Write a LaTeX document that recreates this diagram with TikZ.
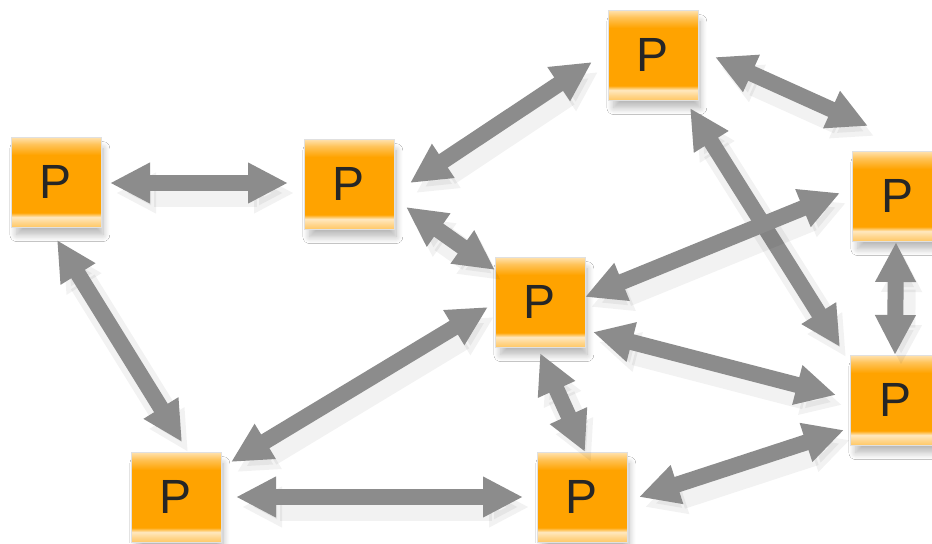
\documentclass[tikz,border=0pt]{standalone}
\usepackage{fontspec}
\setmainfont{Liberation Sans}
\usetikzlibrary{arrows.meta,shadows.blur}
\definecolor{procorange}{RGB}{255,163,0}
\definecolor{linkgray}{RGB}{140,140,140}
\pgfdeclareverticalshading{procshade}{100bp}{color(0bp)=(procorange!60!white); color(25bp)=(procorange!60!white);
  color(27.5bp)=(procorange!45!white); color(30.5bp)=(procorange!25!white); color(33bp)=(procorange);
  color(65bp)=(procorange); color(71bp)=(procorange!65!white); color(75bp)=(procorange!30!white); color(100bp)=(procorange!30!white)}
\begin{document}
\begin{tikzpicture}[x=0.5pt,y=-0.5pt]
        \tikzstyle{proc}=[rectangle,draw=black!12,shading=procshade,minimum size=45pt,inner sep=0pt,
          font=\fontsize{24}{26}\selectfont,text=black!85,
          blur shadow={shadow xshift=2pt,shadow yshift=-5pt,shadow scale=0.96,shadow blur radius=3.5pt,shadow blur steps=10,shadow opacity=28}]
        \tikzstyle{link}=[draw=linkgray,line width=8pt,{Triangle[length=20pt,width=19pt]}-{Triangle[length=20pt,width=19pt]},
          preaction={draw=black,opacity=0.05,line width=14pt,transform canvas={shift={(3pt,-5pt)}}}]
       \path[fill=white,use as bounding box] (0,0) rectangle (932,543);
       \begin{scope}
         \node [proc] (p1) at (56,182) {P};
         \node [proc] (p2) at (349,184) {P};
         \node [proc] (p3) at (653,55) {P};
         \node [proc] (p4) at (897,196) {P};
         \node [proc] (p5) at (540,302) {P};
         \node [proc] (p6) at (895,400) {P};
         \node [proc] (p7) at (176,497) {P};
         \node [proc] (p8) at (582,497) {P};
         \draw[link] ([shift={(54,1)}]p1.center) -- ([shift={(-61,-1)}]p2.center);
         \draw[link] ([shift={(61,-1)}]p2.center) -- ([shift={(-61,7)}]p3.center);
         \draw[link] ([shift={(62,2)}]p3.center) -- ([shift={(-29,-70)}]p4.center);
         \draw[link] ([shift={(37,53)}]p3.center) -- ([shift={(-55,-53)}]p6.center);
         \draw[link] ([shift={(57,23)}]p2.center) -- ([shift={(-45,-32)}]p5.center);
         \draw[link] ([shift={(-57,-3)}]p4.center) -- ([shift={(45,-5)}]p5.center);
         \draw[link] ([shift={(53,30)}]p5.center) -- ([shift={(-59,-5)}]p6.center);
         \draw[link] ([shift={(-1,46)}]p4.center) -- ([shift={(0,-45)}]p6.center);
         \draw[link] ([shift={(1,58)}]p1.center) -- ([shift={(6,-55)}]p7.center);
         \draw[link] ([shift={(55,-35)}]p7.center) -- ([shift={(-52,5)}]p5.center);
         \draw[link] ([shift={(0,51)}]p5.center) -- ([shift={(3,-45)}]p8.center);
         \draw[link] ([shift={(60,0)}]p7.center) -- ([shift={(-59,0)}]p8.center);
         \draw[link] ([shift={(57,0)}]p8.center) -- ([shift={(-51,30)}]p6.center);
        \end{scope}
      \end{tikzpicture}
\end{document}
